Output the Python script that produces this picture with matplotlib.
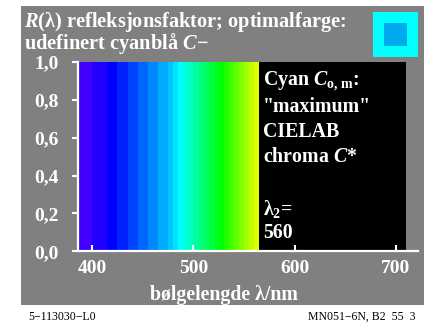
import matplotlib
matplotlib.use("Agg")
import matplotlib.pyplot as plt
from matplotlib.patches import Rectangle

# colour stripes of the optimal colour (nm edges, one colour per stripe)
stripe_edges = [386, 400, 415, 425, 435, 445, 455, 465, 475, 480, 485, 490, 495,
                500, 505, 510, 515, 520, 525, 530, 535, 540, 545, 550, 555, 560, 565]
stripe_colors = ["#4400ff", "#2200ff", "#0000ff", "#0022ff", "#0044ff", "#0066ff",
                 "#0088ff", "#00aaff", "#00c8ff", "#00e4ff", "#00ffff", "#00ffe0",
                 "#00ffc0", "#00ffa0", "#00ff80", "#00ff60", "#00ff40", "#00ff20",
                 "#00ff00", "#20ff00", "#40ff00", "#60ff00", "#80ff00", "#a0ff00",
                 "#c0ff00", "#e0ff00"]
stripe_height = 1.0
# zero reflectance part shown in black
black_start, black_end = 565, 710

x_ticks = [400, 500, 600, 700]
x_labels = ["400", "500", "600", "700"]
y_ticks = [0.0, 0.2, 0.4, 0.6, 0.8, 1.0]
y_labels = ["0,0", "0,2", "0,4", "0,6", "0,8", "1,0"]

plt.rcParams["font.family"] = ["Liberation Serif", "DejaVu Serif"]
plt.rcParams["font.weight"] = "bold"
plt.rcParams["mathtext.fontset"] = "custom"
plt.rcParams["mathtext.rm"] = "Liberation Serif:bold"
plt.rcParams["mathtext.it"] = "Liberation Serif:italic:bold"
plt.rcParams["mathtext.bf"] = "Liberation Serif:bold"

W, H = 424, 323
fig = plt.figure(figsize=(W / 100, H / 100), dpi=100)
fig.patch.set_facecolor("white")

# grey panel
fig.patches.append(Rectangle((21 / W, (H - 305) / H), 403 / W, 299 / H,
                             transform=fig.transFigure, facecolor="#808080",
                             edgecolor="none", zorder=-3))
# cyan sample square
fig.patches.append(Rectangle((373 / W, (H - 57) / H), 45 / W, 45 / H,
                             transform=fig.transFigure, facecolor="#00ffff",
                             edgecolor="none", zorder=-2))
fig.patches.append(Rectangle((384 / W, (H - 46) / H), 23 / W, 23 / H,
                             transform=fig.transFigure, facecolor="#00aaee",
                             edgecolor="none", zorder=-1))

ax = fig.add_axes([78 / W, (H - 251.3) / H, (418 - 78) / W, (251.3 - 62) / H])
ax.set_facecolor("none")
ax.set_zorder(2)

lefts = stripe_edges[:-1]
widths = [b - a for a, b in zip(stripe_edges[:-1], stripe_edges[1:])]
ax.bar(lefts, [stripe_height] * len(lefts), width=widths, align="edge",
       color=stripe_colors, edgecolor="none", linewidth=0)
ax.bar(black_start, stripe_height, width=black_end - black_start, align="edge",
       color="black", edgecolor="none", linewidth=0)

ax.set_xlim(386, 722)
ax.set_ylim(0, 1.0)
for s in ["top", "right"]:
    ax.spines[s].set_visible(False)
for s in ["left", "bottom"]:
    ax.spines[s].set_color("white")
    ax.spines[s].set_linewidth(1.6)
    ax.spines[s].set_zorder(5)

ax.set_xticks(x_ticks)
ax.set_xticklabels(x_labels)
ax.set_yticks(y_ticks)
ax.set_yticklabels(y_labels)
ax.tick_params(axis="y", direction="out", length=4, width=1.5, color="white",
               labelcolor="white", labelsize=14, pad=10)
ax.tick_params(axis="x", direction="in", length=4.5, width=1.5, color="white",
               labelcolor="white", labelsize=14, pad=6)
for lab in ax.get_xticklabels() + ax.get_yticklabels():
    lab.set_fontweight("bold")

fs = 14.3
fig.text(24 / W, (H - 26.5) / H, "$R$(λ) refleksjonsfaktor; optimalfarge:",
         color="white", fontsize=14.7, fontweight="bold", va="baseline", zorder=4)
fig.text(24 / W, (H - 49.5) / H, "udefinert cyanblå $C$−",
         color="white", fontsize=14.7, fontweight="bold", va="baseline", zorder=4)

side = [("Cyan $C_{\\mathrm{o,\\,m}}$:", 86),
        ('"maximum"', 111.5),
        ("CIELAB", 137),
        ("chroma $C$*", 161.5),
        ("λ$_{2}$=", 215),
        ("560", 238.5)]
for txt, yb in side:
    fig.text(263 / W, (H - yb) / H, txt, color="white", fontsize=fs,
             fontweight="bold", va="baseline", zorder=4)

fig.text(224 / W, (H - 300) / H, "bølgelengde λ/nm", color="white",
         fontsize=fs, fontweight="bold", ha="center", va="baseline", zorder=4)

fig.text(28 / W, (H - 320) / H, "5−113030−L0", color="black", fontsize=8.5,
         fontweight="normal", va="baseline")
fig.text(416 / W, (H - 320) / H, "MN051−6N, B2  55  3", color="black",
         fontsize=8.5, fontweight="normal", ha="right", va="baseline")

fig.savefig("out.png", dpi=100)
